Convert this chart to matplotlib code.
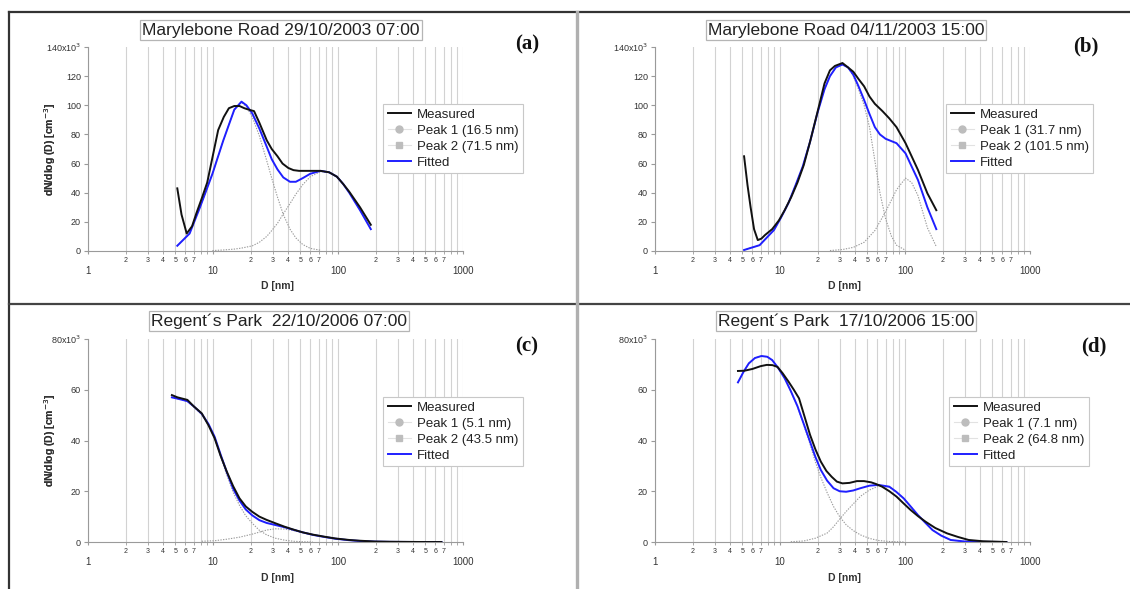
import matplotlib
matplotlib.use("Agg")
import matplotlib.pyplot as plt
from matplotlib.lines import Line2D
from matplotlib.ticker import FixedLocator, FixedFormatter

plt.rcParams['font.family'] = ['Liberation Sans', 'DejaVu Sans']

# ---------------- data ----------------
titles = ["Marylebone Road 29/10/2003 07:00", "Marylebone Road 04/11/2003 15:00",
          "Regent\u00b4s Park  22/10/2006 07:00", "Regent\u00b4s Park  17/10/2006 15:00"]
letters = ["(a)", "(b)", "(c)", "(d)"]
peak1_labels = ["Peak 1 (16.5 nm)", "Peak 1 (31.7 nm)", "Peak 1 (5.1 nm)", "Peak 1 (7.1 nm)"]
peak2_labels = ["Peak 2 (71.5 nm)", "Peak 2 (101.5 nm)", "Peak 2 (43.5 nm)", "Peak 2 (64.8 nm)"]
y_max = [140, 140, 80, 80]
y_step = [20, 20, 20, 20]

# panel (a)
a_meas_D = [5.18, 5.6, 6.16, 6.8, 7.37, 8.2, 8.99, 10.0, 11.0, 12.2, 13.4, 14.8, 16.3, 17.8, 19.3, 21.3,
            23.5, 26.9, 29.5, 32.8, 36, 40, 44, 48.8, 60, 72.6, 85, 98, 110, 123, 150, 183]
a_meas_V = [43, 25, 12, 17, 26, 37, 47, 66, 83, 92, 98, 99.5, 99.5, 98, 97, 96,
            88, 76, 70, 65, 60, 57, 55.5, 55, 55, 55, 54, 51, 46, 40.7, 30, 18]
a_fit_D = [5.18, 6.5, 7.87, 9.9, 12.1, 14.8, 16.9, 18.5, 20.6, 23.5, 26.9, 29.5, 32.8, 36.5, 41.3, 46,
           52.2, 60, 72.6, 85, 98, 110, 123, 150, 183]
a_fit_V = [3.6, 12, 30, 53, 76, 97, 102.5, 100, 94.5, 84, 71.6, 63, 56, 50.5, 47.5, 47.5,
           50, 53, 55, 54, 51, 46, 40, 28, 15]
a_p1_D = [5.18, 6.5, 7.87, 9.9, 12.1, 14.8, 16.9, 18.5, 20.6, 23.5, 26.9, 29.5, 32.8, 36.5, 41.3, 46,
          52.2, 60, 72.6]
a_p1_V = [3.6, 12, 30, 53, 76, 97, 102, 99, 92, 79, 62, 50, 37, 25, 15, 9, 4.5, 1.8, 0.5]
a_p2_D = [9.9, 12.1, 14.8, 16.9, 20.6, 23.5, 26.9, 29.5, 32.8, 36.5, 41.3, 46, 52.2, 60, 72.6, 85, 98,
          110, 123, 150, 183]
a_p2_V = [0.3, 0.7, 1.3, 2, 3.5, 6, 10, 14, 19, 25.5, 32.5, 39, 45.5, 51, 54.5, 54, 51, 46, 40, 28, 15]

# panel (b)
b_meas_D = [5.16, 5.5, 5.82, 6.2, 6.64, 7.1, 7.6, 8.66, 9.8, 10.9, 12.3, 13.8, 15.5, 17.4, 19.9, 22.7,
            25.1, 27.5, 31.6, 35, 38.6, 42.5, 47.1, 52, 57.4, 66, 74.9, 85.5, 101, 113, 127, 151, 178]
b_meas_V = [65, 45, 30, 15, 7.5, 8.5, 11, 15, 21, 28, 37, 47, 59, 75, 95, 115,
            124, 127, 129, 126, 123, 118, 113, 106, 101, 96, 91, 85, 74, 65, 55.6, 39.6, 28]
b_fit_D = [5.16, 6.87, 8.95, 10.2, 11.7, 13.3, 15.2, 17.4, 19.9, 22.7, 25.1, 28, 31.6, 35, 38.6, 42.5,
           47.1, 52, 57.4, 63, 70, 85.5, 101, 113, 127, 151, 178]
b_fit_V = [0.7, 4, 14.4, 23, 33, 45, 58, 75, 94.5, 111, 120, 126, 128, 126, 121, 113,
           103.6, 94, 85, 80, 77, 74, 67, 58, 48.7, 30, 15]
b_p1_D = [5.16, 6.87, 8.95, 10.2, 11.7, 13.3, 15.2, 17.4, 19.9, 22.7, 25.1, 28, 31.6, 35, 38.6, 42.5,
          47.1, 52, 57.4, 63, 70, 78, 85.5, 101]
b_p1_V = [0.7, 4, 14.4, 23, 33, 45, 58, 75, 94.5, 111, 120, 126, 128, 126, 120, 111,
          100, 85, 62, 40, 22, 10, 4, 0.5]
b_p2_D = [25.1, 31.6, 38.6, 47.1, 57.4, 70, 85.5, 101, 113, 127, 151, 178]
b_p2_V = [0.3, 1, 2.5, 6, 14, 27, 42, 50, 47, 38, 16, 3]

# panel (c)
c_meas_D = [4.69, 5.2, 5.7, 6.24, 7.0, 8.13, 9.2, 10.3, 11.5, 12.9, 14.5, 16.3, 18.3, 20.6, 23.5, 26.9,
            31.5, 37.5, 44, 52.2, 63, 77.7, 95, 123, 150, 197, 260, 350, 480, 672]
c_meas_V = [57.9, 57, 56.5, 56, 53.5, 50.7, 46, 40.9, 34, 27.7, 22, 17.2, 14, 11.9, 10, 8.7,
            7.4, 6, 4.9, 3.8, 2.9, 2.1, 1.4, 0.8, 0.5, 0.2, 0.1, 0.05, 0, 0]
c_fit_D = [4.69, 5.2, 5.7, 6.24, 7.0, 8.13, 9.2, 10.3, 11.5, 12.9, 14.5, 16.3, 18.3, 20.6, 23.5, 26.9,
           31.5, 37.5, 44, 52.2, 63, 77.7, 95, 123, 150, 197, 260, 350, 480, 672]
c_fit_V = [57, 56.5, 56, 55.5, 53.5, 50.5, 46.5, 41.5, 34.5, 27.5, 21, 16.3, 12.8, 10.5, 8.6, 7.5,
           6.7, 5.8, 4.8, 3.8, 2.8, 2.0, 1.3, 0.7, 0.4, 0.15, 0.05, 0.02, 0, 0]
c_p1_D = [4.69, 5.2, 5.7, 6.24, 7.0, 8.13, 9.2, 10.3, 11.5, 12.9, 14.5, 16.3, 18.3, 20.6, 23.5, 26.9,
          31.5, 37.5, 44, 52.2, 63]
c_p1_V = [57, 56.5, 56, 55.4, 53.3, 50.2, 46, 41, 33.7, 26.4, 19.6, 14.4, 10.3, 7.4, 4.6, 2.8,
          1.5, 0.7, 0.3, 0.1, 0]
c_p2_D = [8.13, 10.3, 12.9, 16.3, 20.6, 26.9, 31.5, 37.5, 44, 52.2, 63, 77.7, 95, 123, 150, 197, 260,
          350, 480, 672]
c_p2_V = [0.3, 0.5, 1.1, 1.9, 3.1, 4.7, 5.2, 5.1, 4.5, 3.7, 2.8, 2.0, 1.3, 0.7, 0.4, 0.15, 0.05,
          0.02, 0, 0]

# panel (d)
d_meas_D = [4.61, 5.2, 6.02, 7.0, 7.84, 8.7, 9.55, 10.5, 11.7, 12.9, 14.2, 15.7, 17.4, 19.2, 21.2, 23.5,
            25.9, 28.5, 31.6, 36, 41.2, 47, 53.7, 59, 65.6, 75, 85.5, 97, 111, 127, 146, 175, 217, 265,
            323, 420, 647]
d_meas_V = [67.4, 67.5, 68.2, 69.3, 69.8, 69.7, 69, 66.5, 63.2, 60, 56.6, 49.5, 42.2, 36.5, 31.7, 28,
            25.7, 23.8, 23.1, 23.3, 24, 24, 23.5, 22.8, 21.8, 20, 17.9, 15.3, 12.6, 10.2, 8, 5.5, 3.4, 2,
            0.8, 0.3, 0]
d_fit_D = [4.61, 5.1, 5.63, 6.3, 7.1, 7.9, 8.66, 9.7, 10.9, 12.2, 13.8, 15.5, 17.4, 19.2, 21.2, 23.8,
           26.8, 30, 33.8, 38.5, 44, 52, 61.4, 74.9, 85, 97.6, 111, 127, 146, 166, 195, 232, 300, 400, 647]
d_fit_V = [62.9, 67, 70.4, 72.5, 73.3, 73, 71.7, 68.5, 64.5, 59.5, 53.5, 46.5, 39.5, 33.5, 28.4, 24.2,
           21.2, 20.0, 19.8, 20.3, 21.2, 22.2, 22.5, 21.8, 19.8, 17.2, 14, 10.6, 7.5, 4.7, 2.5, 0.8, 0.2,
           0.05, 0]
d_p1_D = [4.61, 5.1, 5.63, 6.3, 7.1, 7.9, 8.66, 9.7, 10.9, 12.2, 13.8, 15.5, 17.4, 19.2, 21.2, 23.8,
          26.8, 30, 33.8, 38.5, 44, 52, 61.4, 74.9, 97.6]
d_p1_V = [62.9, 67, 70.4, 72.5, 73.3, 73, 71.7, 68.5, 64.5, 59.4, 53.3, 46, 38.5, 31.5, 25.5, 19.5,
          14, 10, 6.8, 4.5, 2.8, 1.4, 0.6, 0.2, 0]
d_p2_D = [12.2, 15.5, 19.2, 23.8, 26.8, 30, 33.8, 38.5, 44, 52, 61.4, 74.9, 85, 97.6, 111, 127, 146,
          166, 195, 232, 300, 400, 647]
d_p2_V = [0.1, 0.4, 1.5, 3.5, 6, 9, 12, 15, 18, 20.5, 22, 21.6, 19.8, 17.2, 14, 10.6, 7.5, 4.7, 2.5,
          0.8, 0.2, 0.05, 0]

panels = [
    (a_meas_D, a_meas_V, a_fit_D, a_fit_V, a_p1_D, a_p1_V, a_p2_D, a_p2_V),
    (b_meas_D, b_meas_V, b_fit_D, b_fit_V, b_p1_D, b_p1_V, b_p2_D, b_p2_V),
    (c_meas_D, c_meas_V, c_fit_D, c_fit_V, c_p1_D, c_p1_V, c_p2_D, c_p2_V),
    (d_meas_D, d_meas_V, d_fit_D, d_fit_V, d_p1_D, d_p1_V, d_p2_D, d_p2_V),
]

# ---------------- layout ----------------
W, H = 1130, 589
fig = plt.figure(figsize=(W / 100, H / 100), dpi=100)
fx = lambda px: px / W
fy = lambda py: 1 - py / H

# panel geometry in pixels: (axes left, axes right, y of zero, y of top)
geo = [(88, 463, 251, 47), (655, 1030, 251, 47), (88, 463, 542, 339), (655, 1030, 542, 339)]
title_pos = [(281, 30), (846, 30), (279, 321), (846, 321)]
letter_pos = [(527, 44), (1086, 46), (527, 346), (1094, 346)]
legend_pos = [(383, 104), (946, 104), (383, 397), (949, 397)]
xlabel_y = [286, 286, 578, 578]

grid_c = '#d2d2d2'
axis_c = '#9a9a9a'
text_c = '#333333'

major_locs = [1, 10, 100, 1000]
minor_locs = [m * 10 ** e for e in range(3) for m in range(2, 10)]
minor_labels = [str(m) if m <= 7 else '' for e in range(3) for m in range(2, 10)]

for i, (mD, mV, fD, fV, p1D, p1V, p2D, p2V) in enumerate(panels):
    l, r, y0, yt = geo[i]
    ax = fig.add_axes([fx(l), fy(y0), fx(r) - fx(l), fy(yt) - fy(y0)])
    ax.set_xscale('log')
    ax.set_xlim(1, 1000)
    ax.set_ylim(0, y_max[i])
    for v in major_locs + minor_locs:
        ax.axvline(v, color=grid_c, lw=0.8, zorder=0)
    ax.plot(p1D, p1V, color='#9a9a9a', lw=0.8, ls=(0, (1.2, 1.2)), zorder=2)
    ax.plot(p2D, p2V, color='#9a9a9a', lw=0.8, ls=(0, (1.2, 1.2)), zorder=2)
    ax.plot(fD, fV, color='#1f1fff', lw=1.4, zorder=3)
    ax.plot(mD, mV, color='#111111', lw=1.4, zorder=4)

    for s in ['top', 'right']:
        ax.spines[s].set_visible(False)
    ax.spines['left'].set_color(axis_c)
    ax.spines['bottom'].set_color(axis_c)
    ax.spines['left'].set_linewidth(0.8)
    ax.spines['bottom'].set_linewidth(0.8)

    ax.xaxis.set_major_locator(FixedLocator(major_locs))
    ax.xaxis.set_major_formatter(FixedFormatter([str(v) for v in major_locs]))
    ax.xaxis.set_minor_locator(FixedLocator(minor_locs))
    ax.xaxis.set_minor_formatter(FixedFormatter(minor_labels))
    ax.tick_params(axis='x', which='major', length=2, color=axis_c, labelsize=7, pad=9, labelcolor=text_c)
    ax.tick_params(axis='x', which='minor', length=2, color=axis_c, labelsize=5, pad=2, labelcolor=text_c)

    yt_vals = list(range(0, y_max[i] + 1, y_step[i]))
    ylabels = [str(v) for v in yt_vals]
    ylabels[-1] = f"{y_max[i]}x10$^3$"
    ax.set_yticks(yt_vals)
    ax.set_yticklabels(ylabels)
    ax.tick_params(axis='y', length=3, color=axis_c, labelsize=6.5, pad=2, labelcolor=text_c)

    fig.text(fx(50), (fy(y0) + fy(yt)) / 2, "dN/dlog (D) [cm$^{-3}$]", rotation=90,
             ha='center', va='center', fontsize=7.5, fontweight='bold', color=text_c)
    fig.text(fx((l + r) / 2 + 2), fy(xlabel_y[i]), "D [nm]", ha='center', va='center',
             fontsize=7.5, fontweight='bold', color=text_c)

    tx, ty = title_pos[i]
    fig.text(fx(tx), fy(ty), titles[i], ha='center', va='center', fontsize=12.5, color='#222222',
             bbox=dict(boxstyle='square,pad=0.12', fc='white', ec='#b5b5b5', lw=0.9))
    lx, ly = letter_pos[i]
    fig.text(fx(lx), fy(ly), letters[i], ha='center', va='center', fontsize=15,
             fontweight='bold', family='Liberation Serif', color='#111111')

    handles = [
        Line2D([], [], color='#111111', lw=1.4),
        Line2D([], [], color='#e2e2e2', lw=0.8, marker='o', markersize=5, markerfacecolor='#bdbdbd',
               markeredgecolor='#bdbdbd'),
        Line2D([], [], color='#e2e2e2', lw=0.8, marker='s', markersize=5, markerfacecolor='#bdbdbd',
               markeredgecolor='#bdbdbd'),
        Line2D([], [], color='#1f1fff', lw=1.4),
    ]
    gx, gy = legend_pos[i]
    leg = ax.legend(handles, ["Measured", peak1_labels[i], peak2_labels[i], "Fitted"],
                    loc='upper left', bbox_to_anchor=(fx(gx), fy(gy)), bbox_transform=fig.transFigure,
                    fontsize=9.5, frameon=True, fancybox=False, framealpha=1, edgecolor='#c8c8c8',
                    handlelength=1.8, handletextpad=0.4, labelspacing=0.28, borderpad=0.35,
                    borderaxespad=0)
    leg.get_frame().set_linewidth(0.8)
    for t in leg.get_texts():
        t.set_color('#222222')

# panel frame lines
fig.add_artist(Line2D([fx(9), fx(1130)], [fy(12), fy(12)], color='#333333', lw=1.6))
fig.add_artist(Line2D([fx(9), fx(9)], [fy(12), fy(589)], color='#333333', lw=1.6))
fig.add_artist(Line2D([fx(9), fx(1130)], [fy(304), fy(304)], color='#444444', lw=1.6))
fig.add_artist(Line2D([fx(577), fx(577)], [fy(12), fy(589)], color='#b0b0b0', lw=2.4))

fig.savefig("out.png", dpi=100)
